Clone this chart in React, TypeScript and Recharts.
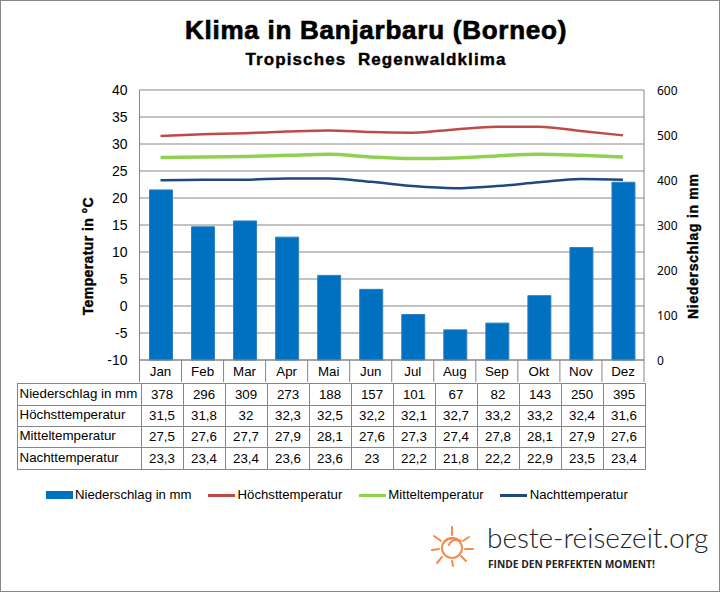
import { ComposedChart, Bar, Line, XAxis, YAxis, CartesianGrid, Legend } from 'recharts';

const months = ['Jan', 'Feb', 'Mar', 'Apr', 'Mai', 'Jun', 'Jul', 'Aug', 'Sep', 'Okt', 'Nov', 'Dez'];
const rain = [378, 296, 309, 273, 188, 157, 101, 67, 82, 143, 250, 395];
const high = [31.5, 31.8, 32, 32.3, 32.5, 32.2, 32.1, 32.7, 33.2, 33.2, 32.4, 31.6];
const mean = [27.5, 27.6, 27.7, 27.9, 28.1, 27.6, 27.3, 27.4, 27.8, 28.1, 27.9, 27.6];
const night = [23.3, 23.4, 23.4, 23.6, 23.6, 23, 22.2, 21.8, 22.2, 22.9, 23.5, 23.4];
const tempTicks = [-10, -5, 0, 5, 10, 15, 20, 25, 30, 35, 40];
const rainTicks = [0, 100, 200, 300, 400, 500, 600];

const RAIN = 'Niederschlag in mm';
const HIGH = 'Höchsttemperatur';
const MEAN = 'Mitteltemperatur';
const NIGHT = 'Nachttemperatur';

const data = months.map((m, i) => ({ month: m, [RAIN]: rain[i], [HIGH]: high[i], [MEAN]: mean[i], [NIGHT]: night[i] }));
const rows: [string, number[]][] = [[RAIN, rain], [HIGH, high], [MEAN, mean], [NIGHT, night]];
const rowHeights = [22, 21, 21, 22];

const GREY = '#868686';
const ARIAL = '"Liberation Sans", Arial, sans-serif';

// month label sitting in a cell, with the cell divider on its right
function MonthTick({ x, y, payload, index }: any) {
    return (
        <g>
            {index === 0 && <line x1={x - 21} x2={x - 21} y1={y - 8} y2={y + 14} stroke={GREY} />}
            <line x1={x + 21} x2={x + 21} y1={y - 8} y2={y + 14} stroke={GREY} />
            <text x={x} y={y + 8} textAnchor="middle" fontSize={13.33} fontFamily={ARIAL} fill="#000">{payload.value}</text>
        </g>
    );
}

function LegendRow({ payload }: any) {
    return (
        <div style={{ display: 'flex', gap: 16.5, fontFamily: ARIAL, fontSize: 13.2, color: '#000', lineHeight: '16px' }}>
            {payload.map((p: any) => (
                <div key={p.value} style={{ display: 'flex', alignItems: 'center', gap: 2.5 }}>
                    <div style={{ width: 27, height: p.value === RAIN ? 8 : 3, background: p.color }} />
                    <span>{p.value}</span>
                </div>
            ))}
        </div>
    );
}

function DataTable() {
    const cell = { border: `1px solid ${GREY}`, padding: 0, overflow: 'hidden', whiteSpace: 'nowrap' } as const;
    return (
        <table style={{ position: 'absolute', left: 16.5, top: 382.5, borderCollapse: 'collapse', tableLayout: 'fixed', width: 628, fontFamily: ARIAL, fontSize: 13.33, color: '#000' }}>
            <colgroup>
                <col style={{ width: 124 }} />
                {months.map((m) => <col key={m} style={{ width: 42 }} />)}
            </colgroup>
            <tbody>
                {rows.map(([name, values], r) => (
                    <tr key={name} style={{ height: rowHeights[r] }}>
                        <td style={{ ...cell, paddingLeft: 2, paddingBottom: 2 }}>{name}</td>
                        {values.map((v, i) => (
                            <td key={i} style={{ ...cell, textAlign: 'center' }}>{String(v).replace('.', ',')}</td>
                        ))}
                    </tr>
                ))}
            </tbody>
        </table>
    );
}

function Logo() {
    const rays = [[0, -21, 0, -13], [17, -11, 11, -7], [21, 1, 13, 1], [14, 13, 9, 8], [1, 18, 0, 13], [-15, 15, -10, 9], [-20, 2, -13, 1], [-18, -12, -11, -7]];
    return (
        <div style={{ position: 'absolute', left: 428, top: 520 }}>
            <svg width={50} height={50} style={{ position: 'absolute', left: 0, top: 0 }}>
                <g transform="translate(24,28)" stroke="#f58b4c" strokeWidth={2} fill="none" strokeLinecap="round">
                    <circle r={10} />
                    <path d="M-8 -6 Q0 -13 9 -7 Q0 -10 -3 -3" />
                    {rays.map((r, i) => <line key={i} x1={r[0]} y1={r[1]} x2={r[2]} y2={r[3]} />)}
                </g>
            </svg>
            <div style={{ position: 'absolute', left: 59, top: 0, fontFamily: 'Lato, sans-serif', fontWeight: 300, fontSize: 28, color: '#222', whiteSpace: 'nowrap' }}>beste-reisezeit.org</div>
            <div style={{ position: 'absolute', left: 60, top: 37, fontFamily: '"Open Sans", sans-serif', fontWeight: 700, fontSize: 10.2, color: '#222', whiteSpace: 'nowrap' }}>FINDE DEN PERFEKTEN MOMENT!</div>
        </div>
    );
}

export default function App() {
    return (
        <div style={{ position: 'absolute', left: 0, top: 0, width: 720, height: 592, boxSizing: 'border-box', border: `1px solid ${GREY}`, background: '#fff' }}>
            <div style={{ position: 'absolute', left: 15, top: 0, width: 720, textAlign: 'center', fontFamily: ARIAL, fontWeight: 700, fontSize: 26, lineHeight: '30px', paddingTop: 14, WebkitTextStroke: '0.7px #000', letterSpacing: 0.75 }}>Klima in Banjarbaru (Borneo)</div>
            <div style={{ position: 'absolute', left: 15, top: 49, width: 720, textAlign: 'center', fontFamily: ARIAL, fontWeight: 700, fontSize: 17, lineHeight: '20px', WebkitTextStroke: '0.4px #000', letterSpacing: 1.1, whiteSpace: 'pre' }}>Tropisches  Regenwaldklima</div>
            <div style={{ position: 'absolute', left: -1, top: -1 }}>
                <ComposedChart width={720} height={592} data={data} margin={{ top: 90, right: 36, left: 109.5, bottom: 184 }} barCategoryGap="45%">
                    <CartesianGrid yAxisId="temp" vertical={false} stroke={GREY} horizontalValues={tempTicks} />
                    <XAxis dataKey="month" xAxisId={0} height={32} axisLine={{ stroke: GREY }} tickLine={false} interval={0} tick={<MonthTick />} />
                    <YAxis yAxisId="temp" domain={[-10, 40]} ticks={tempTicks} width={30} interval={0} axisLine={{ stroke: GREY }} tickLine={false}
                        tick={{ fontSize: 14, fontFamily: ARIAL, fill: '#000' }} tickMargin={6}
                        label={{ value: 'Temperatur in °C', angle: -90, position: 'left', dx: -16, dy: -28, fontSize: 14, letterSpacing: 0.4, fontWeight: 700, fontFamily: ARIAL, fill: '#000', stroke: '#000', strokeWidth: 0.4 }} />
                    <YAxis yAxisId="rain" orientation="right" domain={[0, 600]} ticks={rainTicks} width={40} interval={0} axisLine={{ stroke: GREY }} tickLine={false}
                        tick={{ fontSize: 12, fontFamily: '"Noto Sans", sans-serif', fill: '#000', dy: 1 }} tickMargin={7}
                        label={{ value: RAIN, angle: -90, position: 'right', dx: 4, dy: 94, fontSize: 14, letterSpacing: 0.7, fontWeight: 700, fontFamily: ARIAL, fill: '#000', stroke: '#000', strokeWidth: 0.4 }} />
                    <Bar yAxisId="rain" dataKey={RAIN} fill="#0070c0" stroke="#2f7fc1" barSize={23} isAnimationActive={false} />
                    <Line yAxisId="temp" type="monotone" dataKey={HIGH} stroke="#be4b48" strokeWidth={2.5} dot={false} isAnimationActive={false} />
                    <Line yAxisId="temp" type="monotone" dataKey={MEAN} stroke="#92d050" strokeWidth={3.5} dot={false} isAnimationActive={false} />
                    <Line yAxisId="temp" type="monotone" dataKey={NIGHT} stroke="#1f497d" strokeWidth={2.5} dot={false} isAnimationActive={false} />
                    <Legend content={<LegendRow />} itemSorter={null} wrapperStyle={{ left: 45.5, top: 487, width: 'auto' }} />
                </ComposedChart>
            </div>
            <div style={{ position: 'absolute', left: -1, top: -1, width: 0, height: 0 }}>
                <DataTable />
                <Logo />
            </div>
        </div>
    );
}
